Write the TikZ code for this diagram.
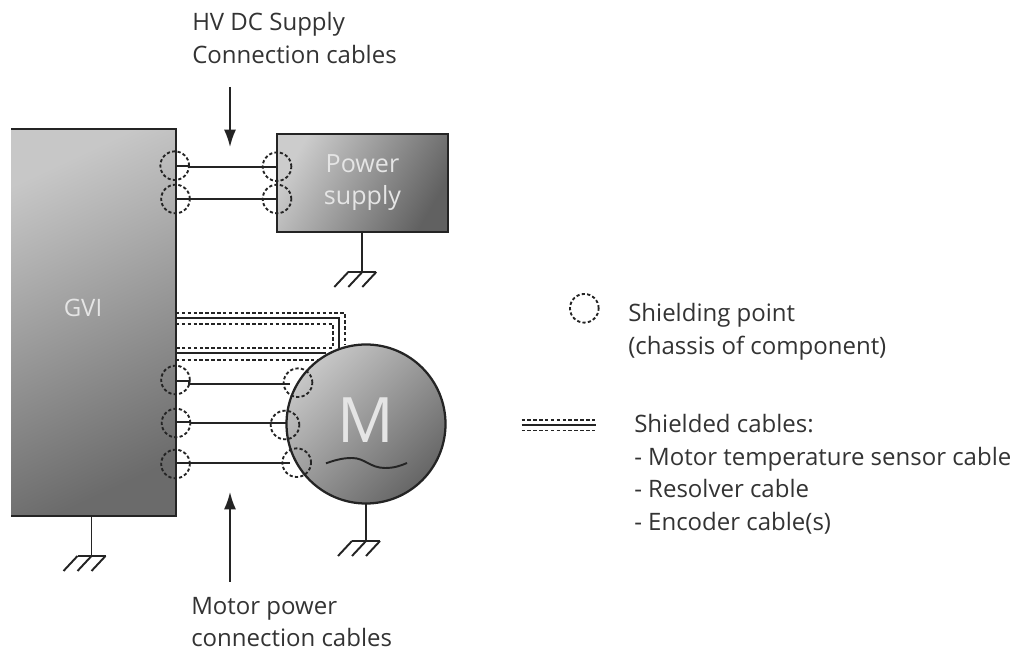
\documentclass[tikz,border=0pt]{standalone}
\usepackage{fontspec}
\setmainfont{Open Sans}
\usetikzlibrary{arrows.meta}
\definecolor{ink}{gray}{0.14}
\tikzset{
  wire/.style={draw=ink,line width=1.6pt},
  thinwire/.style={draw=ink,line width=1.45pt},
  shieldpt/.style={circle,draw=ink,line width=1.4pt,dash pattern=on 2.4pt off 1.7pt,minimum size=21.5pt,inner sep=0pt,fill=none},
  shielddash/.style={draw=ink,line width=1.3pt,dash pattern=on 2.6pt off 1.8pt},
  unit/.style={draw=ink,line width=1.7pt},
  caption/.style={align=left,anchor=north west,inner sep=0pt,font=\fontsize{18pt}{24.4pt}\selectfont,text=black!80},
  inbox/.style={inner sep=0pt,text=white!90!black,align=center},
  pointer/.style={draw=ink,line width=1.3pt,-{Latex[length=13pt,width=9pt,sharp]}},
  gnd/.pic={
    \draw[thinwire] (-14,0) -- (14,0);
    \draw[thinwire] (-14,0) -- (-28,15) (0,0) -- (-14,15) (14,0) -- (0,15);
  }
}
\begin{document}
\begin{tikzpicture}[x=0.75pt,y=-0.75pt]
\useasboundingbox (0,0) rectangle (1018,655);
% GVI
\shade[top color=black!22,bottom color=black!58,shading angle=25] (11,129) rectangle (176,516);
\draw[unit] (11,129) -- (176,129) -- (176,516) -- (11,516);
\node[inbox,font=\fontsize{18pt}{24pt}\selectfont] (gvi) at (83,308) {GVI};
% Power supply
\shade[top color=black!20,bottom color=black!62,shading angle=60] (277,134) rectangle (448,232);
\draw[unit] (277,134) rectangle (448,232);
\node[inbox,font=\fontsize{18.8pt}{24pt}\selectfont] (ps) at (362.5,182.5) {Power\\supply};
% Shielded cable bundle
\draw[shielddash] (176,313.3) -- (345,313.3) -- (345,345);
\draw[wire] (176,318.3) -- (339.3,318.3) -- (339.3,348);
\draw[shielddash] (176,323.7) -- (332.7,323.7) -- (332.7,348.3) -- (176,348.3);
\draw[wire] (176,353.3) -- (326,353.3);
\draw[shielddash] (176,359.7) -- (318,359.7);
% Motor
\shade[top color=black!22,bottom color=black!60,shading angle=45] (366,424) circle (79.5);
\draw[unit] (366,424) circle (79.5);
\node[inbox,font=\fontsize{47pt}{50pt}\selectfont] (m) at (366,420.5) {M};
\draw[thinwire] (326,463.3) .. controls (338,459) and (345,458) .. (352,458) .. controls (365,458) and (370,468) .. (385,468) .. controls (394,468) and (400,466) .. (407,463);
% Wires
\draw[wire] (176,165.7) -- (190,165.7) (190,166.7) -- (277,166.7);
\draw[wire] (176,199) -- (277,199);
\draw[wire] (176,380.7) -- (189,380.7) (189,380.7) -- (189,384) -- (290,384);
\draw[wire] (176,422) -- (190,422) (190,423.3) -- (287,423.3);
\draw[wire] (176,463) -- (290,463);
% shield points
\node[shieldpt] (a1) at (174.7,165.7) {};
\node[shieldpt] (a2) at (175.5,199) {};
\node[shieldpt] (a3) at (277,166.7) {};
\node[shieldpt] (a4) at (277,199) {};
\node[shieldpt] (b1) at (175.5,380) {};
\node[shieldpt] (b2) at (176,423) {};
\node[shieldpt] (b3) at (175.5,464) {};
\node[shieldpt] (c1) at (298,382.7) {};
\node[shieldpt] (c2) at (285,425) {};
\node[shieldpt] (c3) at (296.7,462.7) {};
% grounds
\coordinate (g1) at (362.3,272);
\draw[thinwire] (362.3,232) -- (g1);
\pic at (g1) {gnd};
\coordinate (g2) at (91.5,556);
\draw[thinwire] (91.5,516) -- (g2);
\pic at (g2) {gnd};
\coordinate (g3) at (366,541);
\draw[thinwire] (366,503.5) -- (g3);
\pic at (g3) {gnd};
% pointers
\coordinate (p1a) at (230,87);
\coordinate (p1b) at (230,147);
\draw[pointer] (p1a) -- (p1b);
\coordinate (p2a) at (230,582);
\coordinate (p2b) at (230,492);
\draw[pointer] (p2a) -- (p2b);
% captions
\node[caption] (t1) at (192,12) {HV DC Supply\\Connection cables};
\node[caption] (t2) at (191,597) {Motor power\\connection cables};
\node[shieldpt] (lg1) at (584.3,308.3) {};
\node[caption] (t3) at (628,303) {Shielding point\\(chassis of component)};
\node[caption] (t4) at (634,414) {Shielded cables:\\- Motor temperature sensor cable\\- Resolver cable\\- Encoder cable(s)};
% legend cable
\coordinate (l1) at (521.5,425.3);
\coordinate (l2) at (595.5,425.3);
\draw[shielddash,line width=0.9pt] ([yshift=3.9pt]l1) -- ([yshift=3.9pt]l2);
\draw[wire] (l1) -- (l2);
\draw[shielddash,line width=0.9pt] ([yshift=-3.9pt]l1) -- ([yshift=-3.9pt]l2);
\end{tikzpicture}
\end{document}
